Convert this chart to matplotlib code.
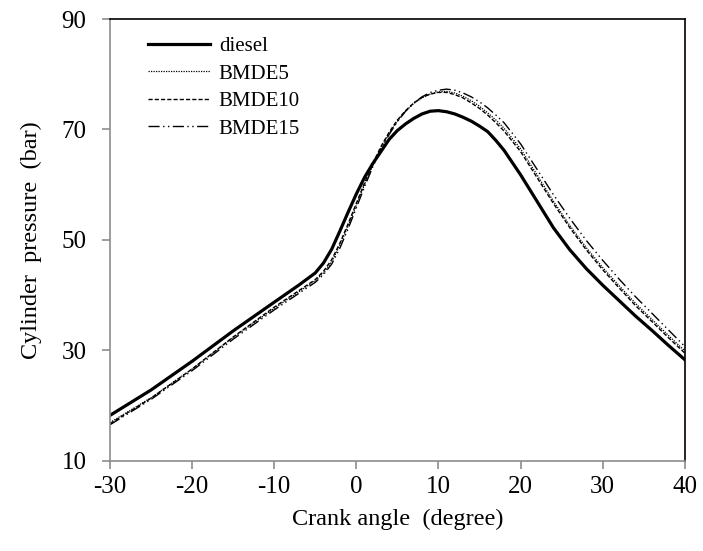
import matplotlib.pyplot as plt

plt.rcParams['font.family'] = ['Liberation Serif', 'DejaVu Serif']
plt.rcParams['axes.unicode_minus'] = False

angle = [-30, -25, -20, -15, -10, -7, -5, -4, -3, -2, -1, 0, 1, 2, 3, 4, 5, 6, 7, 8, 9,
         10, 11, 12, 13, 14, 15, 16, 17, 18, 20, 22, 24, 26, 28, 30, 32, 34, 36, 38, 40]

diesel = [18.2, 22.8, 28.0, 33.5, 38.7, 41.8, 44.0, 45.8, 48.3, 51.6, 55.0, 58.3, 61.3, 63.8, 66.0, 68.2, 69.8, 71.0, 72.0, 72.8, 73.3,
          73.4, 73.2, 72.8, 72.2, 71.5, 70.6, 69.6, 68.0, 66.2, 61.8, 57.0, 52.2, 48.2, 44.8, 41.8, 39.0, 36.2, 33.6, 30.9, 28.3]
bmde5 = [16.9, 21.4, 26.6, 32.3, 37.6, 40.6, 42.6, 44.0, 46.0, 49.0, 52.5, 56.3, 60.0, 63.5, 66.6, 69.3, 71.5, 73.3, 74.7, 75.7, 76.4,
         76.8, 76.9, 76.6, 76.0, 75.2, 74.2, 73.0, 71.7, 70.2, 66.5, 61.8, 57.0, 52.6, 48.6, 45.0, 41.7, 38.5, 35.6, 32.7, 29.9]
bmde10 = [16.7, 21.3, 26.6, 32.4, 37.8, 40.8, 42.8, 44.3, 46.4, 49.4, 52.9, 56.6, 60.3, 63.8, 66.9, 69.5, 71.7, 73.4, 74.8, 75.8, 76.4,
          76.7, 76.7, 76.3, 75.7, 74.8, 73.8, 72.6, 71.2, 69.7, 66.0, 61.3, 56.6, 52.2, 48.2, 44.6, 41.3, 38.1, 35.2, 32.3, 29.5]
bmde15 = [16.5, 21.1, 26.3, 32.0, 37.3, 40.3, 42.3, 43.7, 45.6, 48.5, 52.0, 55.8, 59.6, 63.2, 66.4, 69.1, 71.4, 73.3, 74.8, 75.9, 76.7,
          77.1, 77.3, 77.1, 76.6, 75.9, 75.0, 73.9, 72.6, 71.2, 67.4, 62.8, 58.2, 53.9, 49.9, 46.3, 42.9, 39.7, 36.7, 33.7, 30.7]

fig = plt.figure(figsize=(7.03, 5.51), dpi=100)
ax = fig.add_axes([0.1565, 0.164, 0.8175, 0.8015])

ax.plot(angle, diesel, color='black', lw=2.3, label='diesel')
ax.plot(angle, bmde5, color='black', lw=0.9, ls=(0, (1, 1)), label='BMDE5')
ax.plot(angle, bmde10, color='black', lw=1.0, ls=(0, (3, 1.5)), label='BMDE10')
ax.plot(angle, bmde15, color='black', lw=1.0, ls=(0, (8, 2.5, 1, 2.5, 1, 2.5)), label='BMDE15')

ax.set_xlim(-30, 40)
ax.set_ylim(10, 90)
ax.set_xticks(range(-30, 41, 10))
ax.set_yticks(range(10, 91, 20))

# excel look: grey axes, black frame on top/right
for s in ['left', 'bottom']:
    ax.spines[s].set_color('#8c8c8c')
    ax.spines[s].set_linewidth(1.2)
for s in ['top', 'right']:
    ax.spines[s].set_color('black')
    ax.spines[s].set_linewidth(1.2)
ax.tick_params(direction='out', length=6, width=1.2, color='#8c8c8c', labelsize=18)
ax.tick_params(axis='x', pad=5)
ax.tick_params(axis='y', pad=11)

ax.set_xlabel('Crank angle  (degree)', fontsize=17.5, labelpad=8)
ax.set_ylabel('Cylinder  pressure  (bar)', fontsize=17.5, labelpad=14)

ax.legend(loc='upper left', bbox_to_anchor=(0.066, 0.96), frameon=False, fontsize=15,
          handlelength=3.0, handletextpad=0.4, labelspacing=0.38, borderpad=0, borderaxespad=0)

fig.savefig('out.png', dpi=100)
